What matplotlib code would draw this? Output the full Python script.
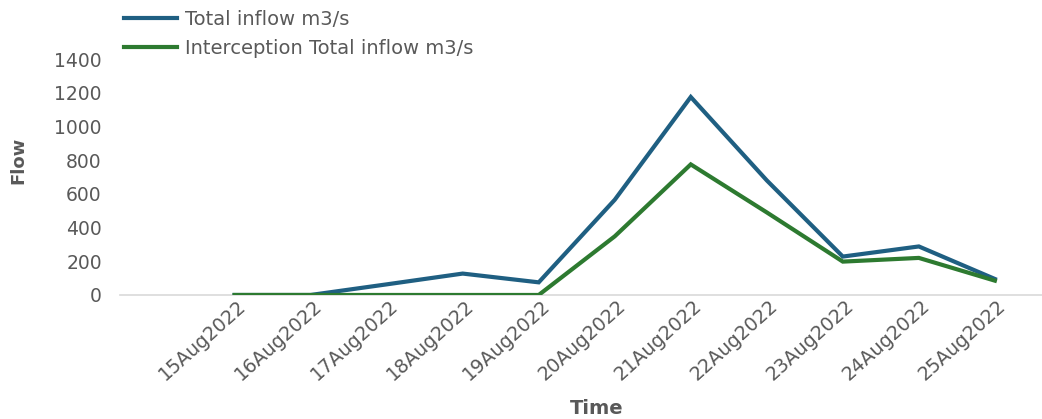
import matplotlib
matplotlib.use("Agg")
import matplotlib.pyplot as plt
import matplotlib.transforms as mtransforms

dates = ["15Aug2022", "16Aug2022", "17Aug2022", "18Aug2022", "19Aug2022",
         "20Aug2022", "21Aug2022", "22Aug2022", "23Aug2022", "24Aug2022",
         "25Aug2022"]
total_inflow = [0, 0, 63, 127, 75, 565, 1175, 680, 228, 288, 95]
interception_inflow = [0, 0, 0, 0, 0, 348, 775, 490, 198, 220, 85]

series_labels = ["Total inflow m3/s", "Interception Total inflow m3/s"]
yticks = [0, 200, 400, 600, 800, 1000, 1200, 1400]

BLUE = "#1f5f82"
GREEN = "#2d7a30"
TEXT = "#595959"

plt.rcParams["font.family"] = ["DejaVu Sans"]

fig = plt.figure(figsize=(10.42, 4.19), dpi=100)
ax = fig.add_axes([0.115, 0.296, 0.885, 0.563])

x = list(range(len(dates)))
ax.plot(x, total_inflow, color=BLUE, lw=3.0, solid_joinstyle="miter",
        label=series_labels[0], zorder=3)
ax.plot(x, interception_inflow, color=GREEN, lw=3.0, solid_joinstyle="miter",
        label=series_labels[1], zorder=4)

ax.set_xlim(-1.51, 10.62)
ax.set_ylim(0, 1400)
ax.set_yticks(yticks)
ax.set_yticklabels([str(v) for v in yticks])
ax.set_xticks(x)
ax.set_xticklabels(dates, rotation=42, ha="right", rotation_mode="anchor")

ax.tick_params(axis="both", length=0, colors=TEXT)
ax.tick_params(axis="x", pad=1, labelsize=13.8)
ax.tick_params(axis="y", pad=13, labelsize=13.5)

# shift the rotated date labels so their upper end sits just right of the tick
offset = mtransforms.ScaledTranslation(2 / 100, 0, fig.dpi_scale_trans)
for lbl in ax.get_xticklabels():
    lbl.set_transform(lbl.get_transform() + offset)

for side in ["top", "right", "left"]:
    ax.spines[side].set_visible(False)
ax.spines["bottom"].set_color("#d9d9d9")
ax.spines["bottom"].set_linewidth(1.2)

fig.text(0.018, 0.618, "Flow", rotation=90, ha="center", va="center",
         fontsize=13, fontweight="bold", color=TEXT)
fig.text(0.573, 0.026, "Time", ha="center", va="center",
         fontsize=14, fontweight="bold", color=TEXT)

leg = fig.legend(loc="upper left", bbox_to_anchor=(0.112, 0.994), frameon=False,
                 fontsize=14, handlelength=2.7, handletextpad=0.4,
                 labelspacing=0.5, borderaxespad=0)
for t in leg.get_texts():
    t.set_color(TEXT)

fig.savefig("out.png", dpi=100)
